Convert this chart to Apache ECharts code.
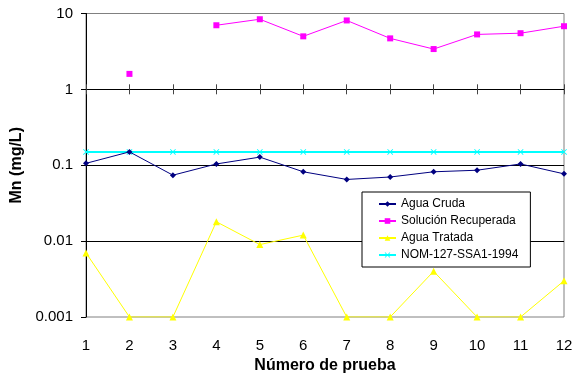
<!DOCTYPE html>
<html>
<head>
<meta charset="utf-8">
<script src="https://cdn.jsdelivr.net/npm/echarts@6/dist/echarts.min.js"></script>
<style>
  html, body { margin: 0; padding: 0; background: #fff; }
  #chart { width: 578px; height: 382px; }
</style>
</head>
<body>
<div id="chart"></div>
<script>
// Manganese concentration per test run (mg/L), log scale
const categories = ['1', '2', '3', '4', '5', '6', '7', '8', '9', '10', '11', '12'];
const aguaCruda = [0.106, 0.15, 0.074, 0.104, 0.128, 0.082, 0.065, 0.070, 0.082, 0.086, 0.104, 0.077];
const solucionRecuperada = [null, 1.6, null, 7.0, 8.4, 5.0, 8.1, 4.7, 3.4, 5.3, 5.5, 6.8];
const aguaTratada = [0.007, 0.001, 0.001, 0.018, 0.009, 0.012, 0.001, 0.001, 0.004, 0.001, 0.001, 0.003];
const nomLimit = [0.15, 0.15, 0.15, 0.15, 0.15, 0.15, 0.15, 0.15, 0.15, 0.15, 0.15, 0.15];

const FONT = '"Liberation Sans", Arial, sans-serif';
const crossSymbol = 'path://M0,1L1,0L5,4L9,0L10,1L6,5L10,9L9,10L5,6L1,10L0,9L4,5Z';

const chart = echarts.init(document.getElementById('chart'));

// the category axis also crosses the value axis at 1, with ticks on both sides
const crossAxis = (inside) => ({
  type: 'category',
  data: categories,
  boundaryGap: false,
  position: 'bottom',
  offset: -227.7,
  axisLine: { show: !inside, lineStyle: { color: '#000', width: 1 } },
  axisTick: { show: true, inside: inside, length: 5, lineStyle: { color: '#444', width: 1 } },
  axisLabel: { show: false },
  splitLine: { show: false }
});

chart.setOption({
  animation: false,
  backgroundColor: '#fff',
  textStyle: { fontFamily: FONT },
  grid: {
    left: 86, right: 14, top: 13.5, bottom: 65,
    show: true, borderColor: '#808080', borderWidth: 1, backgroundColor: 'transparent'
  },
  legend: {
    orient: 'vertical',
    left: 362, top: 192,
    padding: [5, 12, 5, 16],
    borderColor: '#000', borderWidth: 1,
    backgroundColor: '#fff',
    itemWidth: 17, itemHeight: 7, itemGap: 3,
    textStyle: { fontFamily: FONT, fontSize: 12, color: '#000', lineHeight: 14 },
    data: ['Agua Cruda', 'Solución Recuperada', 'Agua Tratada', 'NOM-127-SSA1-1994']
  },
  xAxis: [
    {
      type: 'category',
      data: categories,
      boundaryGap: false,
      name: 'Número de prueba',
      nameLocation: 'middle',
      nameGap: 33,
      nameTextStyle: { fontFamily: FONT, fontSize: 16, fontWeight: 'bold', color: '#000' },
      axisLine: { show: false },
      axisTick: { show: false },
      axisLabel: { margin: 21, fontFamily: FONT, fontSize: 15, color: '#000' },
      splitLine: { show: false }
    },
    crossAxis(false),
    crossAxis(true)
  ],
  yAxis: {
    type: 'log',
    logBase: 10,
    min: 0.001,
    max: 10,
    name: 'Mn (mg/L)',
    nameLocation: 'middle',
    nameGap: 52,
    nameTextStyle: { fontFamily: FONT, fontSize: 16, fontWeight: 'bold', color: '#000' },
    axisLine: { show: true, lineStyle: { color: '#000', width: 1 } },
    axisTick: { show: true, length: 5, lineStyle: { color: '#000' } },
    axisLabel: {
      margin: 13, fontFamily: FONT, fontSize: 15, color: '#000',
      formatter: (v) => String(+v.toPrecision(3))
    },
    minorTick: { show: false },
    splitLine: { show: true, showMinLine: false, showMaxLine: false, lineStyle: { color: '#000', width: 1 } }
  },
  series: [
    {
      name: 'NOM-127-SSA1-1994',
      type: 'line',
      data: nomLimit,
      symbol: crossSymbol,
      symbolSize: 6,
      lineStyle: { color: '#00FFFF', width: 2 },
      itemStyle: { color: '#00FFFF' },
      z: 3
    },
    {
      name: 'Agua Cruda',
      type: 'line',
      data: aguaCruda,
      symbol: 'diamond',
      symbolSize: 6,
      lineStyle: { color: '#000080', width: 1 },
      itemStyle: { color: '#000080' },
      z: 4
    },
    {
      name: 'Solución Recuperada',
      type: 'line',
      data: solucionRecuperada,
      connectNulls: false,
      symbol: 'rect',
      symbolSize: 6,
      lineStyle: { color: '#FF00FF', width: 1 },
      itemStyle: { color: '#FF00FF' },
      z: 4
    },
    {
      name: 'Agua Tratada',
      type: 'line',
      data: aguaTratada,
      symbol: 'triangle',
      symbolSize: 7,
      lineStyle: { color: '#FFFF00', width: 1 },
      itemStyle: { color: '#FFFF00' },
      z: 4
    }
  ]
});
</script>
</body>
</html>
